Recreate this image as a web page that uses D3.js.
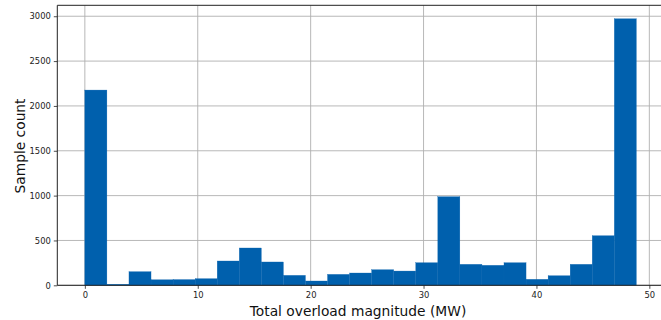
<!DOCTYPE html>
<html>
<head>
<meta charset="utf-8">
<script src="https://cdn.jsdelivr.net/npm/d3@7"></script>
<style>
  body { margin: 0; background: #fff; }
  svg { display: block; }
</style>
</head>
<body>
<svg id="chart"></svg>
<script>
// histogram counts, 25 equal bins from binLow to binHigh
const counts = [2177, 12, 152, 62, 64, 74, 271, 416, 260, 111, 48, 122, 137,
  174, 159, 252, 988, 234, 223, 252, 67, 107, 234, 553, 2972];
const binLow = 0;
const binHigh = 48.85;
const xTicks = [0, 10, 20, 30, 40, 50];
const yTicks = [0, 500, 1000, 1500, 2000, 2500, 3000];

const width = 661, height = 320;
const padL = 57.3, padT = 5.3, padB = 285.3, padR = 663.9;

const binW = (binHigh - binLow) / counts.length;
const bins = counts.map((c, i) => ({ x0: binLow + i * binW, x1: binLow + (i + 1) * binW, n: c }));

const svg = d3.select("#chart").attr("width", width).attr("height", height);

const x = d3.scaleLinear().domain([-2.44, 51.29]).range([padL, padR]);
const y = d3.scaleLinear().domain([0, 3122]).range([padB, padT]);

// grid
svg.append("g")
  .selectAll("line")
  .data(xTicks)
  .join("line")
  .attr("x1", (d) => x(d)).attr("x2", (d) => x(d))
  .attr("y1", padT).attr("y2", padB)
  .attr("stroke", "#b0b0b0")
  .attr("stroke-width", 0.9);

svg.append("g")
  .selectAll("line")
  .data(yTicks)
  .join("line")
  .attr("x1", padL).attr("x2", width)
  .attr("y1", (d) => y(d)).attr("y2", (d) => y(d))
  .attr("stroke", "#b0b0b0")
  .attr("stroke-width", 0.9);

// bars
svg.append("g")
  .selectAll("rect")
  .data(bins)
  .join("rect")
  .attr("x", (d) => x(d.x0))
  .attr("width", (d) => x(d.x1) - x(d.x0))
  .attr("y", (d) => y(d.n))
  .attr("height", (d) => y(0) - y(d.n))
  .attr("fill", "#0060ad")
  .attr("stroke", "#0a64b0")
  .attr("stroke-width", 0.3);

// axes
const xAxis = svg.append("g")
  .attr("transform", `translate(0,${padB})`)
  .call(d3.axisBottom(x).tickValues(xTicks).tickSize(3.5).tickPadding(3));
xAxis.select(".domain").remove();

const yAxis = svg.append("g")
  .attr("transform", `translate(${padL},0)`)
  .call(d3.axisLeft(y).tickValues(yTicks).tickFormat(d3.format("d")).tickSize(3.5).tickPadding(3));
yAxis.select(".domain").remove();

svg.selectAll(".tick text")
  .style("font-family", "DejaVu Sans")
  .style("font-size", "8.4px")
  .attr("fill", "#222");
svg.selectAll(".tick line").attr("stroke", "#222").attr("stroke-width", 0.8);

// spines
svg.append("line").attr("x1", padL).attr("x2", padL).attr("y1", padT).attr("y2", padB)
  .attr("stroke", "#222").attr("stroke-width", 1);
svg.append("line").attr("x1", padL).attr("x2", width).attr("y1", padB).attr("y2", padB)
  .attr("stroke", "#222").attr("stroke-width", 1);
svg.append("line").attr("x1", padL).attr("x2", width).attr("y1", padT).attr("y2", padT)
  .attr("stroke", "#222").attr("stroke-width", 1);

// labels
svg.append("text")
  .text("Total overload magnitude (MW)")
  .attr("x", 358)
  .attr("y", 316)
  .attr("text-anchor", "middle")
  .style("font-family", "DejaVu Sans")
  .style("font-size", "13.8px")
  .attr("fill", "#111");

svg.append("text")
  .text("Sample count")
  .attr("transform", "translate(25,146) rotate(-90)")
  .attr("text-anchor", "middle")
  .style("font-family", "DejaVu Sans")
  .style("font-size", "13.8px")
  .attr("fill", "#111");
</script>
</body>
</html>
